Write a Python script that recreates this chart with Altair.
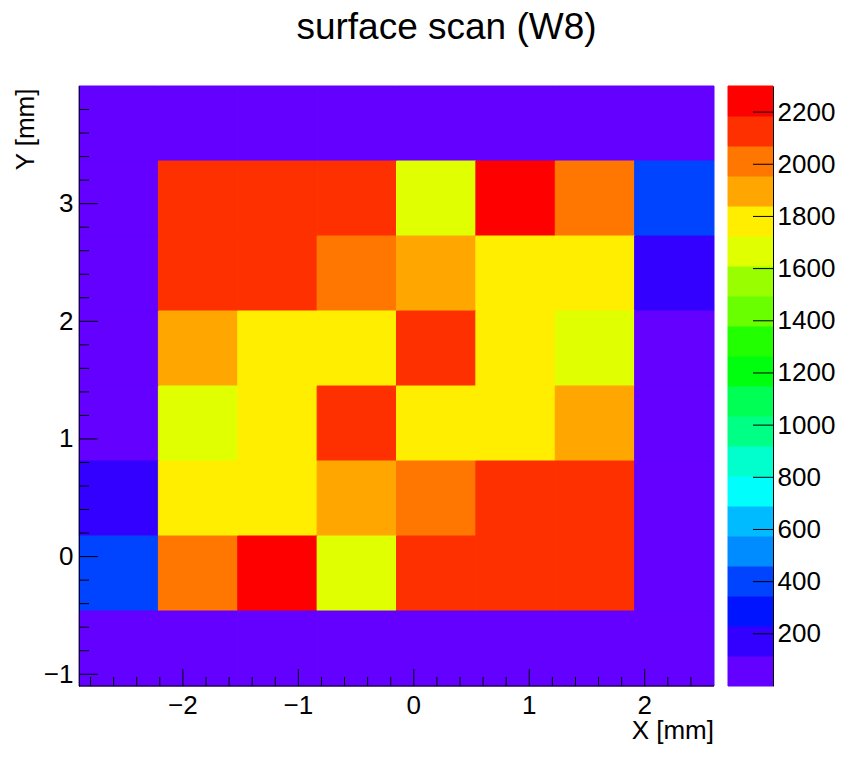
import altair as alt
import pandas as pd

# ---------------- data ----------------
title_text = "surface scan (W8)"
x_title = "X [mm]"
y_title = "Y [mm]"

# histogram bin edges (mm)
x_edges = [-2.9, -2.2125, -1.525, -0.8375, -0.15, 0.5375, 1.225, 1.9125, 2.6]
y_edges = [-1.1, -0.4625, 0.175, 0.8125, 1.45, 2.0875, 2.725, 3.3625, 4.0]

# cell contents, rows listed from the top (highest y) to the bottom
z_rows = [
    [12, 9, 15, 11, 8, 14, 10, 13],
    [18, 2140, 2120, 2150, 1670, 2300, 2010, 405],
    [10, 2130, 2160, 2030, 1900, 1790, 1800, 170],
    [7, 1910, 1780, 1800, 2120, 1770, 1660, 14],
    [9, 1650, 1790, 2140, 1780, 1810, 1890, 11],
    [160, 1800, 1790, 1920, 2020, 2130, 2150, 8],
    [400, 2000, 2260, 1690, 2140, 2110, 2130, 12],
    [6, 10, 13, 8, 11, 9, 15, 7],
]

x_major = [-2, -1, 0, 1, 2]
x_major_labels = ["\u22122", "\u22121", "0", "1", "2"]
x_minor = [-2.8, -2.6, -2.4, -2.2, -1.8, -1.6, -1.4, -1.2, -0.8, -0.6, -0.4, -0.2,
           0.2, 0.4, 0.6, 0.8, 1.2, 1.4, 1.6, 1.8, 2.2, 2.4]
y_major = [-1, 0, 1, 2, 3]
y_minor = [-0.8, -0.6, -0.4, -0.2, 0.2, 0.4, 0.6, 0.8, 1.2, 1.4, 1.6, 1.8,
           2.2, 2.4, 2.6, 2.8, 3.2, 3.4, 3.6, 3.8]
z_ticks = [200, 400, 600, 800, 1000, 1200, 1400, 1600, 1800, 2000, 2200]
z_min = 0
z_max = 2300
n_levels = 20

# ROOT "pretty palette" (violet -> red), 20 contour colours
palette = [
    "#6300FF", "#3300FF", "#0014FF", "#0044FF", "#008BFF",
    "#00BBFF", "#00FFFC", "#00FFCC", "#00FF85", "#00FF55",
    "#00FF0E", "#22FF00", "#69FF00", "#99FF00", "#E0FF00",
    "#FFEE00", "#FFA700", "#FF7700", "#FF3000", "#FF0000",
]

# ---------------- tables ----------------
rows = []
n_y = len(y_edges) - 1
for r, row in enumerate(z_rows):
    yi = n_y - 1 - r
    for c, z in enumerate(row):
        rows.append({"x0": x_edges[c], "x1": x_edges[c + 1],
                     "y0": y_edges[yi], "y1": y_edges[yi + 1], "z": z})
cells = pd.DataFrame(rows)

step = (z_max - z_min) / n_levels
bands = pd.DataFrame({
    "lo": [z_min + k * step for k in range(n_levels)],
    "hi": [z_min + (k + 1) * step for k in range(n_levels)],
})
bands["mid"] = (bands["lo"] + bands["hi"]) / 2

# ---------------- chart ----------------
W, H = 635, 600
FONT = "Liberation Sans"

color_scale = alt.Scale(type="quantize", domain=[z_min, z_max], range=palette)
xs = alt.Scale(domain=[x_edges[0], x_edges[-1]], nice=False, zero=False)
ys = alt.Scale(domain=[y_edges[0], y_edges[-1]], nice=False, zero=False)
zs = alt.Scale(domain=[z_min, z_max], nice=False, zero=False)

axis_style = dict(labelFont=FONT, titleFont=FONT, labelFontSize=26, titleFontSize=26,
                  labelColor="black", titleColor="black", titleFontWeight="normal",
                  domainColor="black", domainWidth=1, grid=False, ticks=False,
                  tickSize=0, zindex=1)

heat = alt.Chart(cells).mark_rect(strokeWidth=1).encode(
    x=alt.X("x0:Q", scale=xs, axis=None),
    x2="x1:Q",
    y=alt.Y("y0:Q", scale=ys, axis=alt.Axis(
        orient="left", values=y_major, format="d", title=y_title,
        labelPadding=6, titleX=-46, titleY=2, titleAlign="right",
        titleAngle=270, titleBaseline="alphabetic", **axis_style)),
    y2="y1:Q",
    color=alt.Color("z:Q", scale=color_scale, legend=None),
    stroke=alt.Stroke("z:Q", scale=color_scale, legend=None),
)

# bottom axis: line, labels and title
x_line = alt.Chart(pd.DataFrame({"v": [x_edges[0], x_edges[-1]]})).mark_line(
    color="black", strokeWidth=1).encode(
    x=alt.X("v:Q", scale=xs, axis=None), y=alt.value(H))
x_labels = alt.Chart(pd.DataFrame({"v": x_major, "t": x_major_labels})).mark_text(
    font=FONT, fontSize=26, color="black", align="center", baseline="top").encode(
    x=alt.X("v:Q", scale=xs, axis=None), text="t:N", y=alt.value(H + 7))
x_title_mark = alt.Chart(pd.DataFrame({"t": [x_title]})).mark_text(
    font=FONT, fontSize=26, color="black", align="right", baseline="alphabetic").encode(
    text="t:N", x=alt.value(W), y=alt.value(H + 53))

xt_major = alt.Chart(pd.DataFrame({"v": x_major})).mark_rule(color="black", strokeWidth=1).encode(
    x=alt.X("v:Q", scale=xs, axis=None), y=alt.value(H - 17), y2=alt.value(H))
xt_minor = alt.Chart(pd.DataFrame({"v": x_minor})).mark_rule(color="black", strokeWidth=1).encode(
    x=alt.X("v:Q", scale=xs, axis=None), y=alt.value(H - 9), y2=alt.value(H))
yt_major = alt.Chart(pd.DataFrame({"v": y_major})).mark_rule(color="black", strokeWidth=1).encode(
    y=alt.Y("v:Q", scale=ys, axis=None), x=alt.value(0), x2=alt.value(19))
yt_minor = alt.Chart(pd.DataFrame({"v": y_minor})).mark_rule(color="black", strokeWidth=1).encode(
    y=alt.Y("v:Q", scale=ys, axis=None), x=alt.value(0), x2=alt.value(10))

cbar = alt.Chart(bands).mark_rect(strokeWidth=1).encode(
    x=alt.value(649), x2=alt.value(694),
    y=alt.Y("lo:Q", scale=zs, axis=alt.Axis(
        orient="right", offset=59, values=z_ticks, format="d",
        labelPadding=4, title=None, **axis_style)),
    y2="hi:Q",
    color=alt.Color("mid:Q", scale=color_scale, legend=None),
    stroke=alt.Stroke("mid:Q", scale=color_scale, legend=None),
)
cbar_ticks = alt.Chart(pd.DataFrame({"v": z_ticks})).mark_rule(color="black", strokeWidth=1).encode(
    y=alt.Y("v:Q", scale=zs, axis=None), x=alt.value(674), x2=alt.value(694))

title_mark = alt.Chart(pd.DataFrame({"t": [title_text]})).mark_text(
    font=FONT, fontSize=37, color="black", align="center", baseline="alphabetic"
).encode(text="t:N", x=alt.value(W / 2 + 50), y=alt.value(-47.5))

chart = alt.layer(
    heat, x_line, x_labels, x_title_mark, xt_major, xt_minor, yt_major, yt_minor,
    cbar, cbar_ticks, title_mark
).resolve_scale(y="independent").properties(
    width=W, height=H,
    autosize=alt.AutoSizeParams(type="none"),
    padding={"left": 71, "top": 78, "right": 130, "bottom": 62},
    background="white",
).configure_view(stroke=None)

chart.save("out.html", embed_options={"renderer": "svg", "actions": False})
